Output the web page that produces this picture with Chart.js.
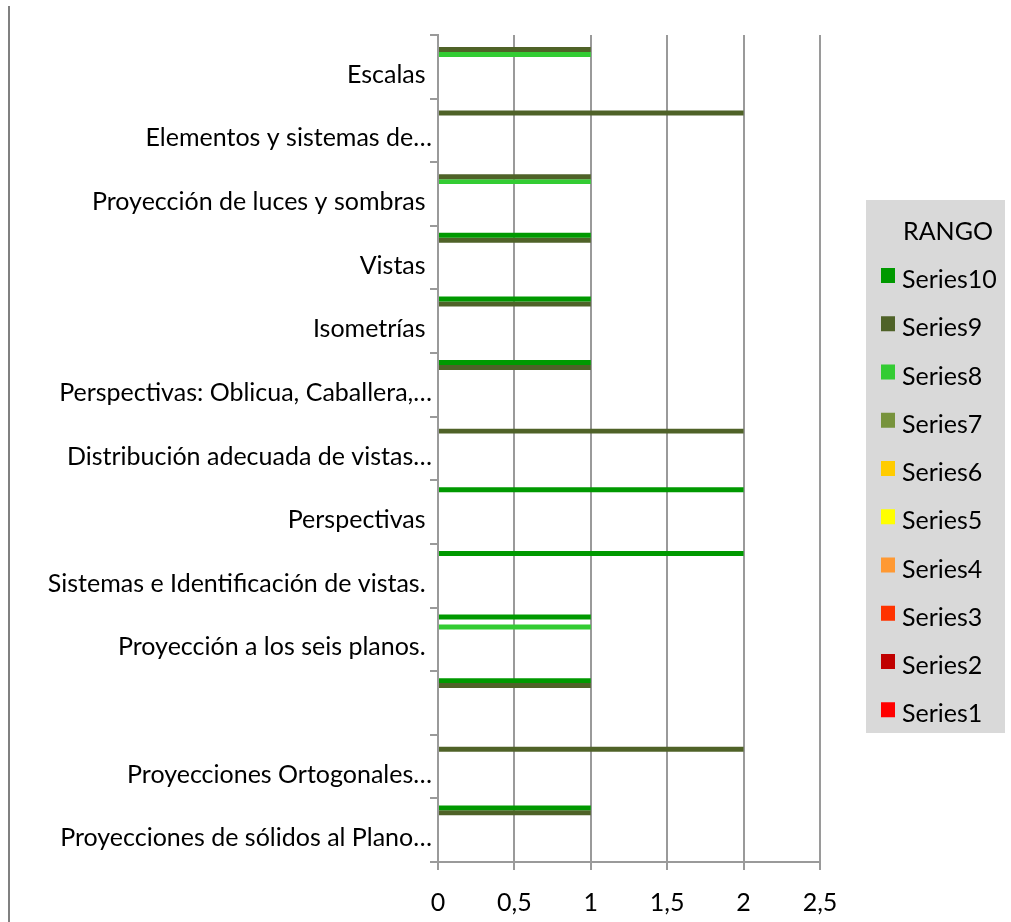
<!DOCTYPE html>
<html>
<head>
<meta charset="utf-8">
<script src="https://cdn.jsdelivr.net/npm/chart.js@4.4.0/dist/chart.umd.min.js"></script>
<style>
    html, body { margin: 0; padding: 0; background: #fff; }
</style>
</head>
<body>
<canvas id="myChart" width="1011" height="922"></canvas>
<script>
// Categories listed top to bottom as they appear on the axis
const categories = [
    'Escalas ',
    'Elementos y sistemas de…',
    'Proyección de luces y sombras ',
    'Vistas ',
    'Isometrías ',
    'Perspectivas: Oblicua, Caballera,…',
    'Distribución adecuada de vistas…',
    'Perspectivas ',
    'Sistemas e Identificación de vistas. ',
    'Proyección a los seis planos. ',
    '',
    'Proyecciones Ortogonales…',
    'Proyecciones de sólidos al Plano…'
];

const series10 = [0, 0, 0, 1, 1, 1, 0, 2, 2, 1, 1, 0, 1];
const series9  = [1, 2, 1, 1, 1, 1, 2, 0, 0, 0, 1, 2, 1];
const series8  = [1, 0, 1, 0, 0, 0, 0, 0, 0, 1, 0, 0, 0];
const series7  = [0, 0, 0, 0, 0, 0, 0, 0, 0, 0, 0, 0, 0];
const series6  = [0, 0, 0, 0, 0, 0, 0, 0, 0, 0, 0, 0, 0];
const series5  = [0, 0, 0, 0, 0, 0, 0, 0, 0, 0, 0, 0, 0];
const series4  = [0, 0, 0, 0, 0, 0, 0, 0, 0, 0, 0, 0, 0];
const series3  = [0, 0, 0, 0, 0, 0, 0, 0, 0, 0, 0, 0, 0];
const series2  = [0, 0, 0, 0, 0, 0, 0, 0, 0, 0, 0, 0, 0];
const series1  = [0, 0, 0, 0, 0, 0, 0, 0, 0, 0, 0, 0, 0];

const seriesNames = ['Series10', 'Series9', 'Series8', 'Series7', 'Series6', 'Series5', 'Series4', 'Series3', 'Series2', 'Series1'];
const seriesValues = [series10, series9, series8, series7, series6, series5, series4, series3, series2, series1];
const seriesColors = ['#009900', '#4f6228', '#33cc33', '#77933c', '#ffcc00', '#ffff00', '#ff9933', '#ff3300', '#c00000', '#ff0000'];

const xTickLabels = ['0', '0,5', '1', '1,5', '2', '2,5'];

const fontFamily = 'Lato, "Open Sans", sans-serif';
const fontSize = 25;
const gridColor = '#9a9a9a';

// gray legend box on the right plus the frame edge on the left
const rangoLegend = {
    id: 'rangoLegend',
    afterDraw(chart) {
        const c = chart.ctx;
        const boxX = chart.chartArea.right + 46;
        const boxY = 200;
        c.save();
        c.fillStyle = '#d9d9d9';
        c.fillRect(boxX, boxY, 139, 533);
        c.font = fontSize + 'px ' + fontFamily;
        c.textBaseline = 'middle';
        c.fillStyle = '#000';
        c.fillText('RANGO', boxX + 37, boxY + 32);
        chart.data.datasets.forEach((ds, i) => {
            const y = boxY + 68 + i * 48.25;
            c.fillStyle = ds.backgroundColor;
            c.fillRect(boxX + 15, y, 14, 15);
            c.fillStyle = '#000';
            c.fillText(ds.label, boxX + 36, y + 12);
        });
        c.strokeStyle = '#808080';
        c.lineWidth = 2;
        c.beginPath();
        c.moveTo(9, 6);
        c.lineTo(9, chart.height);
        c.stroke();
        c.restore();
    }
};

document.addEventListener('DOMContentLoaded', () => {
    const ctx = document.getElementById('myChart').getContext('2d');

    const myChart = new Chart(ctx, {
        type: 'bar',
        data: {
            labels: categories,
            datasets: seriesNames.map((name, i) => ({
                label: name,
                data: seriesValues[i],
                backgroundColor: seriesColors[i],
                borderWidth: 0,
                categoryPercentage: 0.78,
                barPercentage: 1.0
            }))
        },
        options: {
            indexAxis: 'y',
            responsive: false,
            animation: false,
            layout: {
                padding: { top: 35, right: 191, bottom: 0, left: 0 }
            },
            plugins: {
                legend: { display: false },
                tooltip: { enabled: false }
            },
            scales: {
                x: {
                    min: 0,
                    max: 2.5,
                    ticks: {
                        stepSize: 0.5,
                        padding: 18,
                        color: '#000',
                        font: { family: fontFamily, size: fontSize },
                        callback: (v, i) => xTickLabels[i]
                    },
                    grid: { color: gridColor, lineWidth: 2, tickLength: 8 },
                    border: { color: gridColor, width: 2 },
                    afterFit: (scale) => { scale.height = 60; }
                },
                y: {
                    offset: true,
                    ticks: {
                        padding: -2,
                        labelOffset: 8,
                        color: '#000',
                        font: { family: fontFamily, size: fontSize }
                    },
                    grid: { drawOnChartArea: false, offset: true, color: gridColor, lineWidth: 2, tickLength: 8 },
                    border: { color: gridColor, width: 2 },
                    afterFit: (scale) => { scale.width = 438; }
                }
            }
        },
        plugins: [rangoLegend]
    });
});
</script>
</body>
</html>
